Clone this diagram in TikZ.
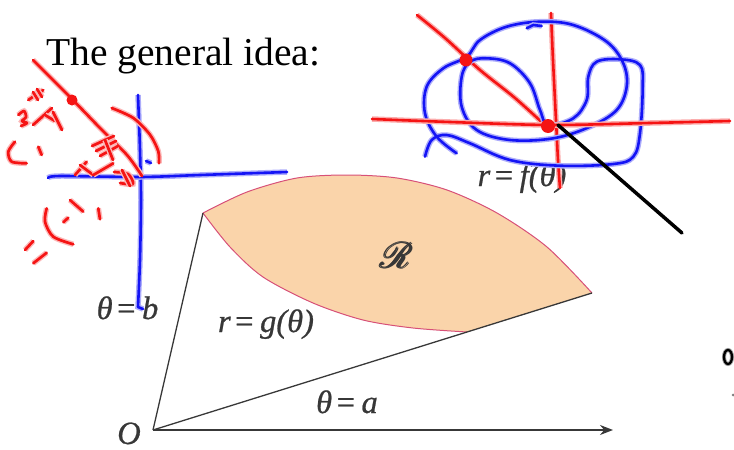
\documentclass[tikz,border=0pt]{standalone}
\usepackage{fontspec}
\usepackage{amsmath}
\usepackage{mathrsfs}
\setmainfont{Liberation Serif}
\newfontfamily\lblfont[FakeBold=0.7]{Liberation Serif}
\usetikzlibrary{arrows.meta}
\definecolor{peach}{RGB}{250,212,170}
\definecolor{rim}{RGB}{215,80,120}
\definecolor{inkb}{RGB}{20,20,245}
\definecolor{inkr}{RGB}{245,20,20}
\definecolor{lbl}{RGB}{55,55,55}
\tikzset{
  bpen/.style={draw=inkb,line width=2.6pt,line cap=round,line join=round,
     preaction={draw=inkb!35,line width=5.5pt}},
  rpen/.style={draw=inkr,line width=2.6pt,line cap=round,line join=round,
     preaction={draw=inkr!35,line width=5.5pt}},
  rthin/.style={draw=inkr,line width=2.7pt,line cap=round,line join=round,
     preaction={draw=inkr!30,line width=5.5pt}},
  ray/.style={draw=black!78,line width=1.3pt},
  lab/.style={text=lbl,font=\lblfont\itshape\fontsize{32.5}{36}\selectfont,inner sep=0pt,anchor=base},
}
\newcommand\eqs{\kern2.5pt=\kern5pt}
\begin{document}
\begin{tikzpicture}[x=1pt,y=-1pt]
\useasboundingbox (0,0) rectangle (734,450);
% title
\node[anchor=base west,inner sep=0pt,font=\fontsize{39.5}{44}\selectfont] (title) at (46,65) {The general idea:};
% main figure
\coordinate (O) at (153,430);
\coordinate (A) at (203,213);
\coordinate (B) at (592,293);
\coordinate (C) at (467,332);
\coordinate (X) at (613,430);
\fill[peach] plot[smooth] coordinates {(203,213) (247,192) (297,178) (347,175) (397,178) (447,190) (497,213) (547,247) (592,293)}
  -- (C) -- plot[smooth] coordinates {(467,332) (413,328) (363,320) (313,303) (263,277) (230,247) (203,213)} -- cycle;
\draw[rim,line width=1pt] plot[smooth] coordinates {(203,213) (247,192) (297,178) (347,175) (397,178) (447,190) (497,213) (547,247) (592,293)};
\draw[rim,line width=1pt] plot[smooth] coordinates {(467,332) (413,328) (363,320) (313,303) (263,277) (230,247) (203,213)};
\draw[ray] (O) -- (A);
\draw[ray] (O) -- (B);
\draw[ray,-{Stealth[length=13pt,width=10pt]}] (O) -- (X);
\node[text=lbl,inner sep=0pt,font=\fontsize{24.88}{28}\selectfont] (R) at (397,255) {\scalebox{1.45}{$\pmb{\mathscr{R}}$}};
\node[lab] (lb) at (127.5,319) {θ\eqs b};
\node[lab] (lg) at (266,332) {r\eqs g(θ)};
\node[lab] (la) at (347,413) {θ\eqs a};
\node[lab] (lO) at (129,444) {O};
\node[lab] (lf) at (522,186) {r\eqs f(θ)};
% ---- handwriting, top right
\draw[rpen] plot[smooth] coordinates {(417,15) (445,38) (480,70) (515,98) (547,127)};
\draw[rpen] plot[smooth] coordinates {(551,13) (553,60) (556,120) (558,160) (560,188)};
\draw[bpen] plot[smooth,tension=0.6] coordinates {(456.7,153.3) (436.7,136.7) (425,113.3) (426.7,86.7) (443.3,68.3) (466.7,56.7) (480,40) (506.7,26.7) (540,21.7) (573.3,25) (606.7,41.7) (623.3,63.3) (626.7,86.7) (616.7,110) (590,126.7) (553.3,138.3) (510,140) (476.7,130) (461.7,106.7) (461.7,76.7) (470,61.7) (486.7,58.3) (510,63.3) (530,83.3) (540,110) (548.3,125) (573.3,118.3) (586.7,100) (588.3,76.7) (596.7,61.7) (620,59.3) (640,65) (642.7,86.7) (640,133.3) (633.3,156.7) (613.3,164) (560,165.7) (510,160) (470,143.3) (446.7,135) (431.7,140) (425,156.7)};
\draw[bpen] (526.7,28.3) -- (533.3,25) -- (541.7,26);
\draw[rpen] plot[smooth] coordinates {(372,119) (450,122) (550,125) (650,123) (730,121)};
\fill[inkr] (466,60) circle (6.5);
\fill[inkr] (548,126) circle (7);
\coordinate (T1) at (558,125);
\coordinate (T2) at (682,233);
\draw[black,line width=3.5pt,line cap=round] (T1) -- (T2);
% ---- handwriting, top left
\draw[bpen] plot[smooth] coordinates {(138,95) (140,150) (141,200) (140,260) (138,307)} -- (143,309);
\draw[bpen] plot[smooth] coordinates {(48,178) (60,176) (140,177) (200,175) (287,172)};
\draw[bpen] (146,161) -- (151,163);
\draw[rthin] plot[smooth] coordinates {(33,60) (70,97) (100,128) (127,155) (142,176)};
\fill[inkr] (72,100) circle (5.5);
\draw[rthin] plot[smooth] coordinates {(111.7,108) (133.3,118) (150,134.7) (158.3,151.3) (159,163.3)};
% "1/3" group
\draw[rthin] plot[smooth] coordinates {(18.3,115) (24,111) (26,117) (22,121) (27,123) (21,126)};
\draw[rthin] (28.3,100) -- (43.3,90);
\draw[rthin] (33,92) -- (38,100);
\draw[rthin] (37,89) -- (42,97);
\draw[rthin] (33,125) -- (52,108);
\draw[rthin] (45,115) -- (55,121);
\draw[rthin] (53,112) -- (62,130);
% "(1"
\draw[rthin] plot[smooth] coordinates {(15,141.7) (8.3,151.7) (11.7,161.7) (26.7,163.3)};
\draw[rthin] (38.3,146.7) -- (41.7,155);
% group near axes
\draw[rthin] (92,146) -- (114,136);
\draw[rthin] (96,151) -- (116,141);
\draw[rthin] (100,156) -- (118,146);
\draw[rthin] (105,140) -- (113,160);
\draw[rthin] (75,175) -- (86.7,161.7);
\draw[rthin] (80,165) -- (93.3,175);
\draw[rthin] (93.3,175) -- (113.3,163.3);
\draw[rthin] plot[smooth] coordinates {(114,172) (128,174) (133,184) (120,183)};
\draw[rthin] (122,170) -- (130,186);
% lower "(-1,1)"
\draw[rthin] plot[smooth] coordinates {(46.7,208.3) (45,221.7) (53.3,236.7) (73.3,244.3)};
\draw[rthin] (70,200) -- (83.3,211.7);
\draw[rthin] (63.3,222.3) -- (68.3,217.7);
\draw[rthin] (98.3,208.3) -- (100,219.3);
\draw[rthin] (25,250) -- (33.3,241);
\draw[rthin] (33.3,263.3) -- (46.7,252.7);
% ---- bottom right fragment
\draw[black,line width=2.2pt,preaction={draw=black!40,line width=4pt}] (728,357) ellipse (4 and 7);
\fill[black!50] (733,395) circle (1.5);
\end{tikzpicture}
\end{document}
